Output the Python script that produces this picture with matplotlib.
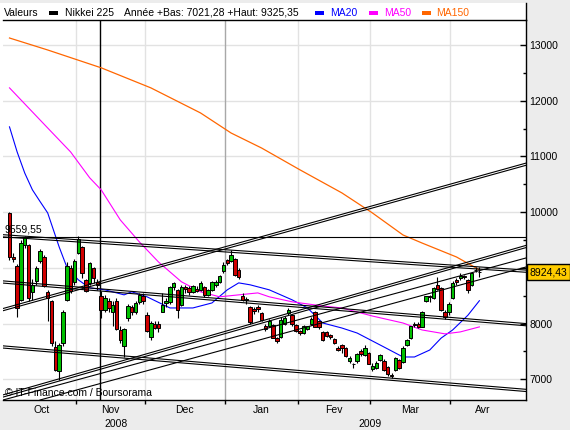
import numpy as np
import matplotlib.pyplot as plt
from matplotlib import transforms
from matplotlib.patches import Rectangle
from matplotlib.lines import Line2D

plt.rcParams['font.family'] = ['Liberation Sans', 'DejaVu Sans']

# Nikkei 225 daily candles, 8 Oct 2008 -> 13 Apr 2009 (one entry per trading day)
opens = [9990, 9190, 9040, 8420, 9410, 9410, 8560, 8770, 9120, 9200,
         8560, 8400, 7580, 7150, 7650, 8430, 9000, 8750, 9270, 9370,
         8780, 8730, 9000, 8750, 8500, 8250, 8400, 8200, 8400, 7890,
         7600, 8100, 8300, 8200, 8380, 8500, 8150, 7750, 8000, 8000,
         8210, 8370, 8390, 8660, 8600, 8340, 8650, 8640, 8570, 8620,
         8600, 8650, 8520, 8600, 8700, 8750, 8950, 9140, 9120, 9160,
         8960, 8500, 8430, 8300, 8270, 8290, 8190, 7950, 7950, 7970,
         7740, 7760, 8000, 8190, 8150, 7970, 7860, 7830, 7900, 7990,
         8210, 8050, 7850, 7850, 7790, 7720, 7560, 7620, 7560, 7330,
         7270, 7330, 7500, 7440, 7470, 7180, 7200, 7350, 7330, 7220,
         7070, 7170, 7350, 7310, 7620, 7740, 8000, 8000, 7940, 8400,
         8500, 8460, 8700, 8640, 8210, 8200, 8460, 8790, 8820, 8860,
         8790, 8690, 8960, 8930]
highs = [10010, 9260, 9060, 9500, 9570, 9420, 8800, 9040, 9330, 9230,
         8600, 8430, 7690, 7650, 8250, 9100, 9050, 9150, 9570, 9400,
         8800, 9100, 9020, 8800, 8580, 8520, 8450, 8400, 8450, 7950,
         7920, 8350, 8330, 8400, 8550, 8550, 8200, 8050, 8050, 8050,
         8550, 8450, 8680, 8750, 8620, 8700, 8700, 8680, 8700, 8680,
         8760, 8680, 8620, 8760, 8780, 8880, 9100, 9150, 9325.35, 9180,
         8990, 8550, 8480, 8320, 8300, 8330, 8210, 7990, 8080, 8000,
         7760, 8120, 8130, 8280, 8180, 7990, 7880, 7970, 7960, 8120,
         8230, 8060, 7860, 7870, 7810, 7740, 7600, 7640, 7580, 7420,
         7300, 7480, 7540, 7620, 7490, 7300, 7320, 7450, 7360, 7240,
         7110, 7400, 7370, 7590, 7720, 7960, 8020, 8030, 8230, 8500,
         8520, 8650, 8840, 8660, 8250, 8380, 8760, 8820, 8900, 8880,
         8800, 8930, 9020, 9010]
lows = [9140, 9100, 8115, 8400, 9350, 8400, 8420, 8700, 9090, 8650,
        8050, 7600, 7140, 6995, 7600, 8400, 8550, 8700, 9250, 8820,
        8560, 8700, 8720, 8600, 8100, 8200, 8200, 7950, 7880, 7650,
        7400, 8050, 8150, 8180, 8350, 8350, 7850, 7700, 7900, 7850,
        8200, 8300, 8350, 8600, 8100, 8320, 8550, 8520, 8550, 8560,
        8580, 8480, 8500, 8590, 8650, 8720, 8900, 9050, 9100, 8850,
        8800, 8400, 8350, 8000, 8180, 8200, 8050, 7860, 7930, 7740,
        7650, 7740, 7980, 8150, 7960, 7850, 7800, 7820, 7880, 7980,
        7940, 7900, 7690, 7760, 7730, 7630, 7510, 7480, 7400, 7300,
        7200, 7300, 7420, 7420, 7270, 7150, 7180, 7330, 7150, 7060,
        7021.28, 7150, 7180, 7300, 7600, 7720, 7940, 7920, 7930, 8380,
        8380, 8440, 8600, 8220, 8080, 8150, 8440, 8700, 8780, 8800,
        8540, 8680, 8930, 8830]
closes = [9203, 9157, 8276, 9447, 9547, 8458, 8693, 9005, 9306, 8674,
          8460, 7649, 7162, 7621, 8211, 9029, 8577, 9114, 9521, 8899,
          8583, 9081, 8809, 8693, 8238, 8462, 8273, 8328, 7907, 7703,
          7910, 8323, 8213, 8373, 8512, 8397, 7864, 8004, 7924, 7917,
          8329, 8396, 8660, 8721, 8236, 8664, 8613, 8567, 8667, 8589,
          8724, 8518, 8600, 8740, 8747, 8860, 9043, 9081, 9239, 8876,
          8837, 8414, 8438, 8023, 8230, 8257, 8066, 7902, 8052, 7745,
          7682, 8061, 8106, 8251, 7994, 7874, 7826, 7950, 7949, 8077,
          7946, 7946, 7705, 7779, 7750, 7646, 7534, 7558, 7416, 7376,
          7269, 7461, 7458, 7568, 7280, 7230, 7291, 7433, 7173, 7086,
          7055, 7376, 7198, 7569, 7704, 7949, 7972, 7946, 8216, 8488,
          8480, 8636, 8627, 8236, 8110, 8352, 8720, 8750, 8858, 8833,
          8595, 8916, 8964, 8924.43]

# moving averages (trading-day index, value)
ma20_idx = [0, 2, 4, 6, 8, 10, 13, 15, 18, 21, 25, 30, 32, 36, 42, 48, 53, 57,
            60, 63, 68, 74, 78, 82, 87, 91, 98, 103, 106, 110, 113, 116, 120, 123]
ma20 = [11530, 11080, 10700, 10400, 10190, 9985, 9375, 9015, 8785, 8640, 8605,
        8515, 8570, 8480, 8280, 8280, 8370, 8605, 8730, 8695, 8605, 8425, 8280,
        8010, 7920, 7830, 7580, 7400, 7400, 7525, 7740, 7885, 8150, 8410]
ma50_idx = [0, 5, 10, 16, 21, 24, 29, 34, 39, 45, 50, 55, 60, 65, 68, 74,
            82, 87, 95, 103, 108, 114, 118, 123]
ma50 = [12230, 11870, 11510, 11080, 10615, 10400, 9860, 9465, 9105, 8750,
        8570, 8480, 8515, 8550, 8480, 8390, 8315, 8280, 8135, 8010, 7885,
        7815, 7850, 7940]
ma150_idx = [0, 10, 24, 37, 50, 58, 66, 76, 87, 95, 103, 108, 117, 123]
ma150 = [13125, 12910, 12590, 12230, 11780, 11420, 11150, 10760, 10345, 9985,
         9590, 9445, 9195, 8965]

# drawn trend lines: start / end (index, value), double stroke or not
trend_x0 = [-1.7, -1.7, -1.7, -1.7, -1.7, -1.7, -1.7, 8.0]
trend_v0 = [9559.55, 9575, 8746, 7580, 8250, 6700, 6628, 6628]
trend_x1 = [135.2, 135.2, 135.2, 135.2, 135.2, 135.2, 135.2, 135.2]
trend_v1 = [9559.55, 8940, 7980, 6800, 10860, 9383, 9177, 9015]
trend_double = [False, True, True, True, True, True, False, False]
level_mark = 9559.55
cursor_idx = 23.7

# month edges in trading-day index (first day of each month)
month_edges = [-1, 17, 35, 56, 75, 94, 115, 132]
month_names = ['Oct', 'Nov', 'Dec', 'Jan', 'Fev', 'Mar', 'Avr']
years = ['2008', '2009']
year_spans = [(0, 3), (3, 7)]

W, H = 570, 430


def fx(x):
    return x / W


def fy(y):
    return 1 - y / H


def fr(v):
    return f"{v:.2f}".replace('.', ',')


opens = np.array(opens)
highs = np.array(highs)
lows = np.array(lows)
closes = np.array(closes)
x = np.arange(len(closes))

fig = plt.figure(figsize=(5.7, 4.3), dpi=100, facecolor='#ececec')
fig.patches.append(Rectangle((0, fy(400)), fx(526), fy(3) - fy(400),
                             transform=fig.transFigure, facecolor='white',
                             edgecolor='none', zorder=-5))
ax = fig.add_axes([fx(3), fy(400), fx(526) - fx(3), fy(20) - fy(400)])
ax.set_zorder(1)
ax.set_xlim(-1.7, 135.2)
ax.set_ylim(6628, 13448)

# grid
for v in range(7000, 13001, 1000):
    ax.axhline(v, color='#e2e2e2', lw=1, zorder=0)
edges = [e + 0.4 for e in month_edges]
for i, e in enumerate(edges[1:-1]):
    col = '#a8a8a8' if month_names[i + 1] == 'Jan' else '#e2e2e2'
    ax.axvline(e, color=col, lw=1, zorder=0)
ax.axvline(cursor_idx, color='black', lw=1, zorder=1)

# moving averages
ax.plot(ma20_idx, ma20, color='#0000ff', lw=0.8, zorder=2)
ax.plot(ma50_idx, ma50, color='#ff00ff', lw=0.8, zorder=2)
ax.plot(ma150_idx, ma150, color='#ff6600', lw=0.9, zorder=2)

# candles
up = closes >= opens
colors = np.where(up, '#00c000', '#d00000')
ax.vlines(x, lows, highs, color='black', lw=0.8, zorder=3)
ax.bar(x, closes - opens, bottom=opens, width=0.9, color=colors,
       edgecolor='black', linewidth=0.7, zorder=4)

# trend lines
for x0, v0, x1, v1, dbl in zip(trend_x0, trend_v0, trend_x1, trend_v1, trend_double):
    if dbl:
        for off in (-1.1, 1.1):
            tr = transforms.offset_copy(ax.transData, fig=fig, x=0, y=off, units='dots')
            ax.plot([x0, x1], [v0, v1], color='black', lw=0.8, transform=tr, zorder=6)
    else:
        ax.plot([x0, x1], [v0, v1], color='black', lw=0.8, zorder=6)

lvl_tr = transforms.offset_copy(
    transforms.blended_transform_factory(ax.transAxes, ax.transData),
    fig=fig, x=0, y=2, units='dots')
ax.text(0.002, level_mark, fr(level_mark), transform=lvl_tr, fontsize=7.5,
        ha='left', va='bottom', zorder=7)

ax.text(0.004, 0.018, '\u00a9 IT-Finance.com / Boursorama', transform=ax.transAxes,
        fontsize=7.5, ha='left', va='center', zorder=7)

# axes, ticks
ax.spines['left'].set_visible(False)
for s in ['top', 'right', 'bottom']:
    ax.spines[s].set_color('black')
    ax.spines[s].set_linewidth(1)
ax.yaxis.tick_right()
yt = list(range(7000, 13001, 1000))
ax.set_yticks(yt)
# 9000 sits under the last-price box
ax.set_yticklabels(['' if v == 9000 else str(v) for v in yt])
ax.set_yticks(range(7500, 13500, 1000), minor=True)
ax.tick_params(axis='y', which='major', direction='in', length=4, width=1,
               pad=2.5, labelsize=7.5, right=True, left=False)
ax.tick_params(axis='y', which='minor', direction='in', length=2, width=1,
               right=True, left=False)
ax.set_xticks(edges[1:-1])
ax.set_xticklabels([])
ax.tick_params(axis='x', direction='out', length=3, width=1, bottom=True)

bt = transforms.blended_transform_factory(ax.transData, ax.transAxes)
for i, name in enumerate(month_names):
    c = (edges[i] + edges[i + 1]) / 2
    ax.text(c, -0.027, name, transform=bt, ha='center', va='center',
            fontsize=7.5, clip_on=False)
for name, (a, b) in zip(years, year_spans):
    c = (edges[a] + edges[b]) / 2
    ax.text(c, -0.063, name, transform=bt, ha='center', va='center',
            fontsize=7.5, clip_on=False)

# last price box
pt = transforms.blended_transform_factory(ax.transAxes, ax.transData)
ax.text(1.0067, closes[-1], fr(closes[-1]), transform=pt, ha='left', va='center',
        fontsize=7.5, zorder=10, clip_on=False,
        bbox=dict(boxstyle='square,pad=0.25', facecolor='#ffcc00', edgecolor='black', lw=1))

# header
fig.lines.append(Line2D([fx(526), fx(526)], [fy(3), fy(20)], transform=fig.transFigure,
                        color='black', lw=1))
year_start = month_edges[3]
year_low = lows[year_start:].min()
year_high = highs[year_start:].max()
hy = fy(12.5)
fig.text(fx(4), hy, 'Valeurs', va='center', fontsize=7.5)
head = [(49, 65, 'Nikkei 225', 'black'),
        (315, 330, 'MA20', '#0000ff'),
        (369, 384, 'MA50', '#ff00ff'),
        (422, 436, 'MA150', '#ff6600')]
for sx, tx, label, col in head:
    fig.patches.append(Rectangle((fx(sx), fy(14.5)), 9 / W, 4 / H, transform=fig.transFigure,
                                 facecolor=col, edgecolor='none'))
    fig.text(fx(tx), hy, label, va='center', fontsize=7.5, color=col)
fig.text(fx(124), hy, f'Ann\u00e9e +Bas: {fr(year_low)} +Haut: {fr(year_high)}',
         va='center', fontsize=7.5)

fig.savefig('out.png', dpi=100, facecolor=fig.get_facecolor())
